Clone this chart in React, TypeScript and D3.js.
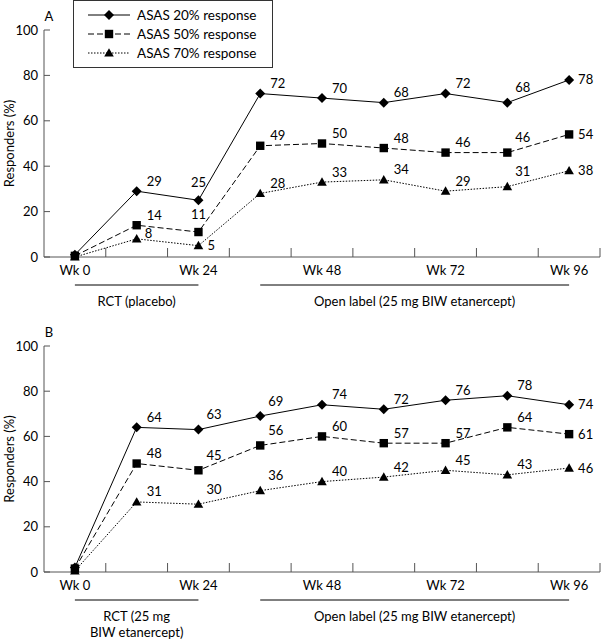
import React from "react";
import * as d3 from "d3";

const weeks = ["Wk 0", "", "Wk 24", "", "Wk 48", "", "Wk 72", "", "Wk 96"];
const yTicks = [0, 20, 40, 60, 80, 100];
const seriesNames = ["ASAS 20% response", "ASAS 50% response", "ASAS 70% response"];

const panelA20 = [1, 29, 25, 72, 70, 68, 72, 68, 78];
const panelA50 = [0.5, 14, 11, 49, 50, 48, 46, 46, 54];
const panelA70 = [0, 8, 5, 28, 33, 34, 29, 31, 38];
const panelB20 = [2, 64, 63, 69, 74, 72, 76, 78, 74];
const panelB50 = [1.5, 48, 45, 56, 60, 57, 57, 64, 61];
const panelB70 = [0.5, 31, 30, 36, 40, 42, 45, 43, 46];

// label placement: "" none, ur upper-right, ur2 higher upper-right, ur3 low upper-right, u above, r right
const placeA20 = ["", "ur", "u", "ur", "ur", "ur", "ur", "ur2", "r"];
const placeA50 = ["", "ur", "u", "ur", "ur", "ur", "ur", "ur2", "r"];
const placeA70 = ["", "ur3", "r", "ur", "ur", "ur", "ur", "ur2", "r"];
const placeB = ["", "ur", "ur2", "ur2", "ur", "ur", "ur", "ur", "r"];

const periodsA = ["RCT (placebo)", "Open label (25 mg BIW etanercept)"];
const periodsB = ["RCT (25 mg|BIW etanercept)", "Open label (25 mg BIW etanercept)"];

const FONT = "Lato, 'Open Sans', sans-serif";
const dashes = [null, "6,3", "1.5,1.5"];

function Marker({ kind, x, y }: { kind: number; x: number; y: number }) {
  if (kind === 0) {
    const r = 5;
    return <path d={`M${x},${y - r}L${x + r},${y}L${x},${y + r}L${x - r},${y}Z`} fill="#000" />;
  }
  if (kind === 1) {
    const s = 4.2;
    return <rect x={x - s} y={y - s} width={2 * s} height={2 * s} fill="#000" />;
  }
  const h = 4.8;
  return <path d={`M${x},${y - h}L${x + h},${y + h * 0.75}L${x - h},${y + h * 0.75}Z`} fill="#000" />;
}

function Panel({
  top, bottom, letter, data, places, periods,
}: {
  top: number; bottom: number; letter: string; data: number[][]; places: string[][]; periods: string[];
}) {
  const x = d3.scaleBand<number>().domain(d3.range(weeks.length)).range([44, 600]).padding(0);
  const bw = x.bandwidth();
  const cx = (i: number) => (x(i) as number) + bw / 2;
  const y = d3.scaleLinear().domain([0, 100]).range([bottom, top]);
  const line = d3.line<number>().x((_, i) => cx(i)).y((d) => y(d));
  const tickXs = d3.range(1, weeks.length).map((i) => x(i) as number).concat([600]);
  const axisColor = "#555";
  const lineY = bottom + 28;
  const textY = bottom + 44;
  return (
    <g fontFamily={FONT}>
      <text x={49} y={top - 9} fontSize={13} textAnchor="middle">{letter}</text>
      <line x1={44} x2={44} y1={top} y2={bottom} stroke={axisColor} strokeWidth={1} />
      <line x1={44} x2={600} y1={bottom} y2={bottom} stroke={axisColor} strokeWidth={1} />
      {yTicks.map((t) => (
        <g key={t}>
          <line x1={44} x2={50} y1={y(t)} y2={y(t)} stroke={axisColor} />
          <text x={38} y={y(t)} dy="0.35em" textAnchor="end" fontSize={13}>{t}</text>
        </g>
      ))}
      {tickXs.map((tx, i) => (
        <line key={i} x1={tx} x2={tx} y1={bottom} y2={bottom - 9} stroke={axisColor} />
      ))}
      {weeks.map((w, i) => w ? (
        <text key={i} x={cx(i)} y={bottom + 13} dy="0.35em" textAnchor="middle" fontSize={13}>{w}</text>
      ) : null)}
      <text transform={`translate(9,${(top + bottom) / 2}) rotate(-90)`} textAnchor="middle" dy="0.35em" fontSize={13}>Responders (%)</text>
      {data.map((s, k) => (
        <path key={k} d={line(s) || ""} fill="none" stroke="#000" strokeWidth={1} strokeDasharray={dashes[k] || undefined} />
      ))}
      {data.map((s, k) => s.map((v, i) => <Marker key={`${k}-${i}`} kind={k} x={cx(i)} y={y(v)} />))}
      {data.map((s, k) => s.map((v, i) => {
        const p = places[k][i];
        if (!p) return null;
        let dx = 10, dy = -10, anchor = "start";
        if (p === "u") { dx = 0; dy = -18; anchor = "middle"; }
        if (p === "r") { dx = 9; dy = 0; }
        if (p === "ur2") { dx = 8; dy = -15; }
        if (p === "ur3") { dx = 8; dy = -5; }
        return (
          <text key={`l${k}-${i}`} x={cx(i) + dx} y={y(v) + dy} dy="0.35em" textAnchor={anchor} fontSize={13}>{Math.round(v)}</text>
        );
      }))}
      <line x1={cx(0)} x2={cx(2)} y1={lineY} y2={lineY} stroke="#000" />
      <line x1={cx(3)} x2={cx(8)} y1={lineY} y2={lineY} stroke="#000" />
      {periods[0].split("|").map((t, j) => (
        <text key={j} x={cx(1)} y={textY + j * 16} dy="0.35em" textAnchor="middle" fontSize={13}>{t}</text>
      ))}
      <text x={(cx(3) + cx(8)) / 2} y={textY} dy="0.35em" textAnchor="middle" fontSize={13}>{periods[1]}</text>
    </g>
  );
}

export default function App() {
  return (
    <svg width={601} height={640} style={{ position: "absolute", left: 0, top: 0, background: "#fff" }}>
      <rect width={601} height={640} fill="#fff" />
      <Panel top={30} bottom={257} letter="A" data={[panelA20, panelA50, panelA70]}
        places={[placeA20, placeA50, placeA70]} periods={periodsA} />
      <Panel top={346} bottom={572} letter="B" data={[panelB20, panelB50, panelB70]}
        places={[placeB, placeB, placeB]} periods={periodsB} />
      <g fontFamily={FONT}>
        <rect x={73.5} y={0.5} width={199} height={67} fill="#fff" stroke="#333" strokeWidth={1} />
        {seriesNames.map((n, k) => {
          const ly = 15 + k * 19;
          return (
            <g key={k}>
              <line x1={88} x2={130} y1={ly} y2={ly} stroke="#000" strokeDasharray={dashes[k] || undefined} />
              <Marker kind={k} x={109} y={ly} />
              <text x={137} y={ly} dy="0.35em" fontSize={13.5}>{n}</text>
            </g>
          );
        })}
      </g>
    </svg>
  );
}
